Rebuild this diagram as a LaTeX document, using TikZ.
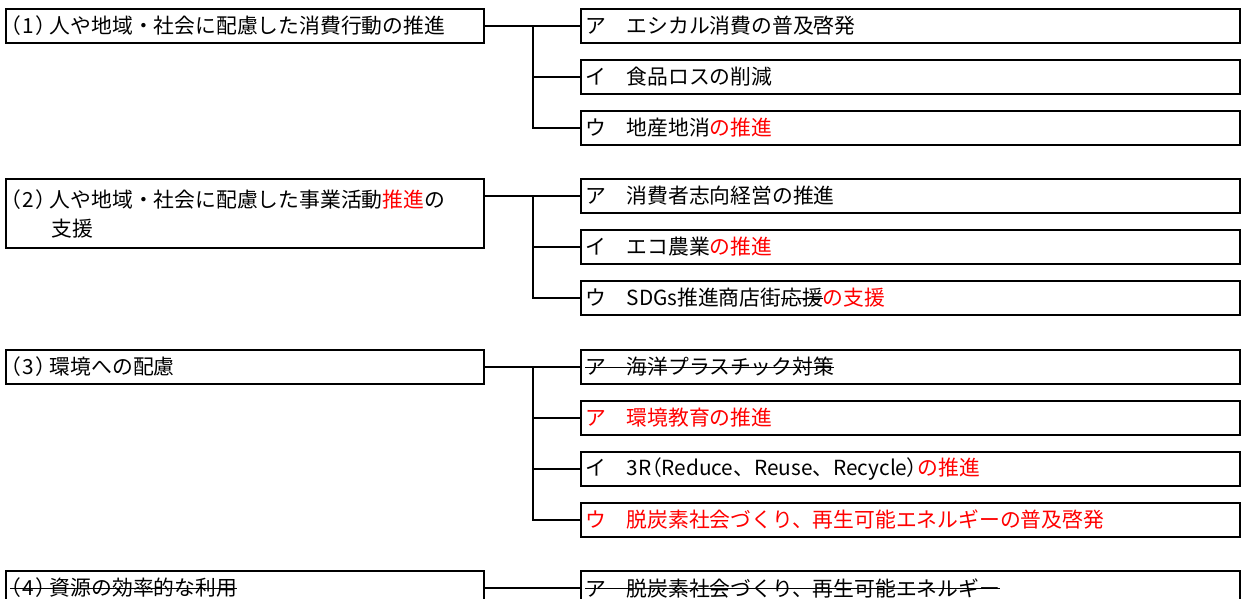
\documentclass[tikz,border=0pt]{standalone}
\usepackage{fontspec}
\usepackage{xcolor}
\setmainfont{Noto Sans CJK JP}
\newfontfamily\pfont[RawFeature=+palt]{Noto Sans CJK JP}
\usetikzlibrary{positioning}

% strike-through for deleted words
\newsavebox\strkbox
\newcommand\strk[1]{\sbox\strkbox{#1}\rlap{\rule[0.34em]{\wd\strkbox}{1.3pt}}\usebox\strkbox}
% narrow brackets round the item number
\newcommand\itemno[1]{{\pfont （\kern2.5pt#1\kern2pt）}\kern3pt}

\tikzset{
  mainbox/.style={draw, line width=2pt, anchor=north west, minimum height=34pt,
    text width=470pt, inner xsep=4pt, inner ysep=0pt, align=left,
    font=\fontsize{20.8pt}{29pt}\selectfont},
  subbox/.style={mainbox, text width=651pt},
  link/.style={line width=2pt}
}

\begin{document}
\begin{tikzpicture}[x=1pt, y=-1pt]
\useasboundingbox (0,0) rectangle (1241,599);

% main items
\node[mainbox] (p1) at (5,8) {\itemno{1}人や地域・社会に配慮した消費行動の推進};
\node[mainbox, minimum height=69pt] (p2) at (5,178) {\itemno{2}人や地域・社会に配慮した事業活動\textcolor{red}{推進}の\\　　支援};
\node[mainbox] (p3) at (5,349) {\itemno{3}環境への配慮};
\node[mainbox] (p4) at (5,570) {\strk{\itemno{4}資源の効率的な利用}};

% sub items
\node[subbox] (c11) at (580,8) {ア　エシカル消費の普及啓発};
\node[subbox] (c12) at (580,59) {イ　食品ロスの削減};
\node[subbox] (c13) at (580,110) {ウ　地産地消\textcolor{red}{の推進}};

\node[subbox] (c21) at (580,178) {ア　消費者志向経営の推進};
\node[subbox] (c22) at (580,229) {イ　エコ農業\textcolor{red}{の推進}};
\node[subbox] (c23) at (580,280) {ウ　SDGs推進商店街\strk{応援}\textcolor{red}{の支援}};

\node[subbox] (c31) at (580,349) {\strk{ア　海洋プラスチック対策}};
\node[subbox] (c32) at (580,400) {\textcolor{red}{ア　環境教育の推進}};
\node[subbox] (c33) at (580,451) {イ　3R{\pfont （}Reduce、Reuse、Recycle{\pfont ）}\textcolor{red}{の推進}};
\node[subbox] (c34) at (580,502) {\textcolor{red}{ウ　脱炭素社会づくり、再生可能エネルギーの普及啓発}};

\node[subbox] (c41) at (580,570) {\strk{ア　脱炭素社会づくり、再生可能エネルギー}};

% branch points
\coordinate[left=47pt of c11.west] (b1);
\coordinate[left=47pt of c21.west] (b2);
\coordinate[left=47pt of c31.west] (b3);

% connectors
\draw[link] (p1.east) -- (c11.west);
\draw[link] (b1) |- (c12.west) (b1) |- (c13.west);

\draw[link] (p2.east |- c21.west) -- (c21.west);
\draw[link] (b2) |- (c22.west) (b2) |- (c23.west);

\draw[link] (p3.east) -- (c31.west);
\draw[link] (b3) |- (c32.west) (b3) |- (c33.west) (b3) |- (c34.west);

\draw[link] (p4.east) -- (c41.west);

\draw[gray!70!black, line width=1pt] (c13.south east) -- (c21.north east);

\end{tikzpicture}
\end{document}
